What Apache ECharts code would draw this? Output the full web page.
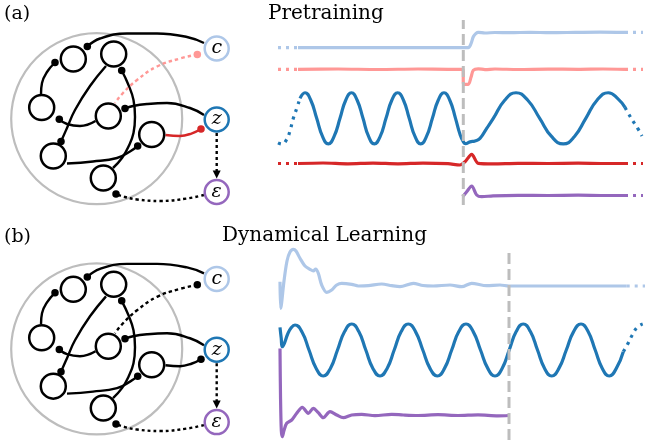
<!DOCTYPE html>
<html><head><meta charset="utf-8">
<script src="https://cdn.jsdelivr.net/npm/echarts@6/dist/echarts.min.js"></script>
<style>html,body{margin:0;padding:0;background:#fff}#c{width:645px;height:445px}</style>
</head><body><div id="c"></div>
<script>
// ================= DATA =================
// --- network diagram (panel coordinates, shared by both panels) ---
const reservoirCircle = [[96.7, 118.7]];
const innerNodes = [[73.3,59],[113.7,54],[41.7,107.5],[108.3,116],[151.7,134.5],[53.3,156],[103.3,178]];
const outerNodes = [[216.7,48.5],[216.7,119.5],[216.7,192]];
const outerLabels = ['c','z','ε'];
const outerColors = ['#aec7e8','#1f77b4','#9467bd'];
const edgeCtoN1 = [[204,43],[187,37],[157,33.5],[127,33.5],[100,38.5],[87.3,46.5]];
const edgeN3toN1 = [[41,94],[42,83],[47,72],[55,62.5]];
const edgeN4toN3 = [[95.5,121],[80,126],[67,124],[59.3,119.3]];
const edgeN2toN6 = [[106,66],[90,86],[75,110],[67,128],[61,141.5]];
const edgeN7toN2 = [[113,168],[122,158],[128.5,146.5],[133.5,133],[135,117],[133.5,100],[128.5,85],[121.7,70.5]];
const edgeZtoN4 = [[204,115],[190,108],[167,103],[147,104],[133,106],[125,108.5]];
const edgeN6toN5 = [[67,163.5],[93,161.5],[117,158],[130,151.5],[137.7,146]];
const edgeEtoN7 = [[204,195],[187,198.5],[160,201],[137,199.5],[125,197],[116,194]];
const edgeZtoE = [[216.7,133],[216.7,171]];
const arrowTip = [[216.7,174.5]];
const edgeDots = [[87.3,46.5],[55,62.5],[59.3,119.3],[61,141.5],[121.7,70.5],[125,108.5],[137.7,146],[116,194]];
const edgeCtoN4 = [[197.3,54.5],[180,58.5],[157,66.5],[137,80],[123,93],[115,103]];
const dotCtoN4 = [[197.3,54.5]];
const edgeN5toZ = [[165.5,135],[180,136],[192,133.3],[201,129]];
const dotN5toZ = [[201,129]];

// --- (a) Pretraining traces: [time step, value] ---
const switchA = 185.3;
const ctxA_pre = [[0,0],[20,0]];
const ctxA = [[20,0],[100,0],[185.3,0],[190.3,0],[193,4],[195.3,11],[198,14.3],[200.3,15.4],[207,14.7],[217,15.2],[232,15],[252,15.4],[272,15],[297,15.3],[322,15.6],[347,15.3]];
const ctxA_post = [[347,15.3],[365,15.3]];
const fbA_pre = [[0,0],[20,0]];
const fbA = [[20,0],[60,0.3],[100,-0.2],[140,0.3],[170,0],[185,0],[185.5,-15],[190.3,-15],[193,-8],[195.3,-1],[200.3,0.5],[207,-0.3],[217,0.3],[240,-0.2],[270,0.2],[300,0],[325,0.3],[347,0]];
const fbA_post = [[347,0],[365,0]];
const zA_pre = [[0,-24.5],[4,-25.6],[8.7,-21],[12,-12.5],[15,-1],[18.7,10],[22,20]];
const zA = [[22,20],[27,25.6],[32.8,18.1],[38.7,0],[44.5,-18.1],[50.3,-25.6],[56.1,-18.1],[62,0],[67.7,18.1],[73.5,25.6],[79.2,18.1],[85,0],[90.6,-18.1],[96.3,-25.6],[102.2,-18.1],[108,0],[113.8,18.1],[119.7,25.6],[125.5,18.1],[131.2,0],[137,-18.1],[142.7,-25.6],[148.5,-18.1],[154.4,0],[160.2,18.1],[166,25.6],[171.8,18.1],[177.5,0],[182,-16],[185.3,-23.3],[187.5,-25.2],[192,-23.5],[197,-22.6],[202,-20],[208.7,-10],[215.3,0],[226.7,18.1],[238,25.6],[249.8,18.1],[261.7,0],[273.5,-18.1],[285.3,-25.6],[296.5,-18.1],[307.8,0],[319,18.1],[330.3,25.6],[340,19.5],[347,11]];
const zA_post = [[347,11],[350.3,5],[355.3,-3.3],[359.7,-10],[364,-17.7]];
const outA_pre = [[0,0],[20,0]];
const outA = [[20,0],[45,0.5],[70,-0.3],[95,0.4],[120,-0.3],[145,0.4],[170,-0.2],[182,-1.5],[187,1.8],[193.7,9.2],[200.3,0.2],[215,-0.3],[240,0.2],[270,0],[300,0.3],[325,0],[347,0]];
const outA_post = [[347,0],[365,0]];
const errA = [[184.7,-1.2],[188.7,3.8],[193.7,9.5],[198.7,0.5],[203.7,-1.2],[215,-0.3],[240,0.2],[270,0],[300,0.3],[325,0],[347,0]];
const errA_post = [[347,0],[365,0]];

// --- (b) Dynamical Learning traces ---
const switchB = 231;
const ctxB = [[2,4.3],[2.6,-22.3],[3.5,-18],[6,5],[9,25],[12,34],[15.3,36.7],[18,35],[22,27.7],[27,20],[32,16.7],[35.3,15],[37.7,17],[40.3,12.7],[43.7,1],[48.7,-6.3],[53.7,-4],[58.7,1],[63.7,2.7],[73.7,1.7],[80.3,0],[90.3,0.3],[103.7,2],[113.7,0.3],[122,-0.7],[135.3,2.7],[145,0.5],[155.3,0],[172,1],[183.7,-0.7],[193.7,2.7],[208.7,0.3],[222,1],[231,0],[348.7,0]];
const ctxB_post = [[348.7,0],[367,0]];
const zB = [[2,22.7],[3.2,12],[4.3,3.3],[6.5,7],[9.5,15.5],[13,22],[17,25],[24,18],[31,0],[38.2,-18.4],[45.3,-26],[52.4,-18.4],[59.5,0],[66.6,18.4],[73.7,26],[80.8,18.4],[87.8,0],[94.9,-18.4],[102,-26],[109.1,-18.4],[116.2,0],[123.2,18.4],[130.3,26],[137.5,18.4],[144.8,0],[152,-18.4],[159.3,-26],[166.5,-18.4],[173.7,0],[180.8,18.4],[188,26],[195.2,18.4],[202.5,0],[209.8,-18.4],[217,-26],[224.1,-18.4],[231.2,0],[238.2,18.4],[245.3,26],[252.4,18.4],[259.5,0],[266.6,-18.4],[273.7,-26],[280.9,-18.4],[288.3,0],[295.6,18.4],[303,26],[310.1,18.4],[317.2,0],[324.3,-18.4],[331.3,-26],[338.3,-18.4],[345.3,-1.7]];
const zB_post = [[345.3,-1.7],[349.7,6],[354.3,15],[359.3,22.7],[364.7,26]];
const errB = [[2,67],[2.5,20],[3.3,-15],[4.3,-21.2],[6,-15],[8.7,-7.8],[13.7,-4.5],[18.7,2.2],[24.3,8.2],[30.3,2.2],[35.3,7.2],[40.3,2.8],[45.3,-2.2],[52,3.8],[58.7,0.5],[65.3,-2.2],[73.7,0.5],[83.7,1.2],[97,-0.2],[113.7,1.2],[125.3,0.5],[140,0],[160,0.8],[180,0],[200,0.6],[220,-0.3],[231,0]];

const titles = ['(a)','Pretraining','(b)','Dynamical Learning'];

// ================= CHART =================
const C_CTX='#aec7e8', C_FB='#ff9896', C_Z='#1f77b4', C_OUT='#d62728', C_ERR='#9467bd', C_GREY='#bdbdbd';
const grids=[], xAxes=[], yAxes=[], series=[];
function addGrid(left, top, width, height, xr, yr, inverse){
  const i = grids.length;
  grids.push({left, top, width, height, show:false, containLabel:false});
  xAxes.push({type:'value', gridIndex:i, min:xr[0], max:xr[1], show:false});
  yAxes.push({type:'value', gridIndex:i, min:yr[0], max:yr[1], inverse:!!inverse, show:false});
  return i;
}
function line(gi, data, color, width, type, smooth, z){
  series.push({type:'line', xAxisIndex:gi, yAxisIndex:gi, data, smooth: smooth, symbol:'none', showSymbol:false,
    clip:false, silent:true, z: z||2, animation:false,
    lineStyle:{color, width, type: type||'solid', cap:'butt', join:'round', opacity:1}});
}
function scatter(gi, data, opts){
  const s = Object.assign({type:'scatter', xAxisIndex:gi, yAxisIndex:gi, data, silent:true, animation:false, clip:false}, opts);
  s.itemStyle = Object.assign({opacity:1}, s.itemStyle||{});
  series.push(s);
}
const DOT=[3,5];
const EW=2.4;
function diagram(gi, panelA){
  scatter(gi, reservoirCircle, {symbolSize:171, itemStyle:{color:'rgba(0,0,0,0)', borderColor:C_GREY, borderWidth:2.2}, z:1});
  [edgeCtoN1, edgeN3toN1, edgeN4toN3, edgeN2toN6, edgeN7toN2, edgeZtoN4, edgeN6toN5].forEach(e=>line(gi, e, '#000', EW, 'solid', 0.45, 2));
  line(gi, edgeEtoN7, '#000', EW, [3,3], 0.45, 2);
  line(gi, edgeZtoE, '#000', EW, [3,3], false, 2);
  scatter(gi, arrowTip, {symbol:'triangle', symbolSize:[8,8], symbolRotate:180, itemStyle:{color:'#000'}, z:4});
  line(gi, edgeCtoN4, panelA?C_FB:'#000', EW, [3.5,3], 0.45, 2);
  line(gi, edgeN5toZ, panelA?C_OUT:'#000', EW, 'solid', 0.45, 2);
  scatter(gi, innerNodes, {symbolSize:25, itemStyle:{color:'#fff', borderColor:'#000', borderWidth:2.5}, z:3});
  scatter(gi, outerNodes.map((p,i)=>({value:p, itemStyle:{borderColor:outerColors[i]}})), {symbolSize:24,
    itemStyle:{color:'#fff', borderWidth:2.5}, z:3,
    label:{show:true, position:'inside', formatter:p=>outerLabels[p.dataIndex], fontFamily:'DejaVu Serif', fontStyle:'italic', fontSize:19, color:'#000'}});
  scatter(gi, edgeDots, {symbolSize:7.5, itemStyle:{color:'#000'}, z:4});
  scatter(gi, dotCtoN4, {symbolSize:7.5, itemStyle:{color: panelA?C_FB:'#000'}, z:4});
  scatter(gi, dotN5toZ, {symbolSize:7.5, itemStyle:{color: panelA?C_OUT:'#000'}, z:4});
}
const gDa = addGrid(0, 0, 230, 215, [0,230], [0,215], true);
const gDb = addGrid(0, 230.5, 230, 215, [0,230], [0,215], true);
diagram(gDa, true);
diagram(gDb, false);

// panel (a) traces
const XA=[0,365], LA=278, WA=365;
const gCa = addGrid(LA, 27.7, WA, 25, XA, [-5,20]);
const gFa = addGrid(LA, 64.3, WA, 25, XA, [-20,5]);
const gZa = addGrid(LA, 88.35, WA, 60, XA, [-30,30]);
const gOa = addGrid(LA, 148.5, WA, 20, XA, [-5,15]);
const gEa = addGrid(LA, 180.5, WA, 20, XA, [-5,15]);
const gVa = addGrid(LA, 20, WA, 185, XA, [0,1]);
const W=3.2;
line(gCa, ctxA_pre, C_CTX, W, DOT, false); line(gCa, ctxA, C_CTX, W, 'solid', 0.3); line(gCa, ctxA_post, C_CTX, W, DOT, false);
line(gFa, fbA_pre, C_FB, W, DOT, false); line(gFa, fbA, C_FB, W, 'solid', 0.3); line(gFa, fbA_post, C_FB, W, DOT, false);
line(gZa, zA_pre, C_Z, W, DOT, 0.5); line(gZa, zA, C_Z, W, 'solid', 0.5); line(gZa, zA_post, C_Z, W, DOT, 0.5);
line(gOa, outA_pre, C_OUT, W, DOT, false); line(gOa, outA, C_OUT, W, 'solid', 0.3); line(gOa, outA_post, C_OUT, W, DOT, false);
line(gEa, errA, C_ERR, W, 'solid', 0.3); line(gEa, errA_post, C_ERR, W, DOT, false);
line(gVa, [[switchA,0],[switchA,1]], C_GREY, 3, [11,5], false, 5);

// panel (b) traces
const XB=[0,367], WB=367;
const gCb = addGrid(LA, 246, WB, 65, XB, [-25,40]);
const gZb = addGrid(LA, 320, WB, 60, XB, [-30,30]);
const gEb = addGrid(LA, 345.5, WB, 95, XB, [-25,70]);
const gVb = addGrid(LA, 251.7, WB, 188.3, XB, [0,1]);
line(gCb, ctxB, C_CTX, W, 'solid', 0.3); line(gCb, ctxB_post, C_CTX, W, DOT, false);
line(gZb, zB, C_Z, W, 'solid', 0.5); line(gZb, zB_post, C_Z, W, DOT, 0.5);
line(gEb, errB, C_ERR, W, 'solid', 0.3);
line(gVb, [[switchB,0],[switchB,1]], C_GREY, 3, [11,5], false, 5);

const F = '"DejaVu Serif", serif';
function txt(s, x, y, size){
  return {type:'text', x, y, silent:true, style:{text:s, font: size+'px '+F, fill:'#000', textAlign:'left', align:'left', textVerticalAlign:'middle', verticalAlign:'middle'}};
}
const chart = echarts.init(document.getElementById('c'));
chart.setOption({
  animation:false,
  grid:grids, xAxis:xAxes, yAxis:yAxes, series,
  graphic:[txt(titles[0],4,14,19), txt(titles[1],268,14,20), txt(titles[2],4,237,19), txt(titles[3],222,236,20)]
});
</script></body></html>
